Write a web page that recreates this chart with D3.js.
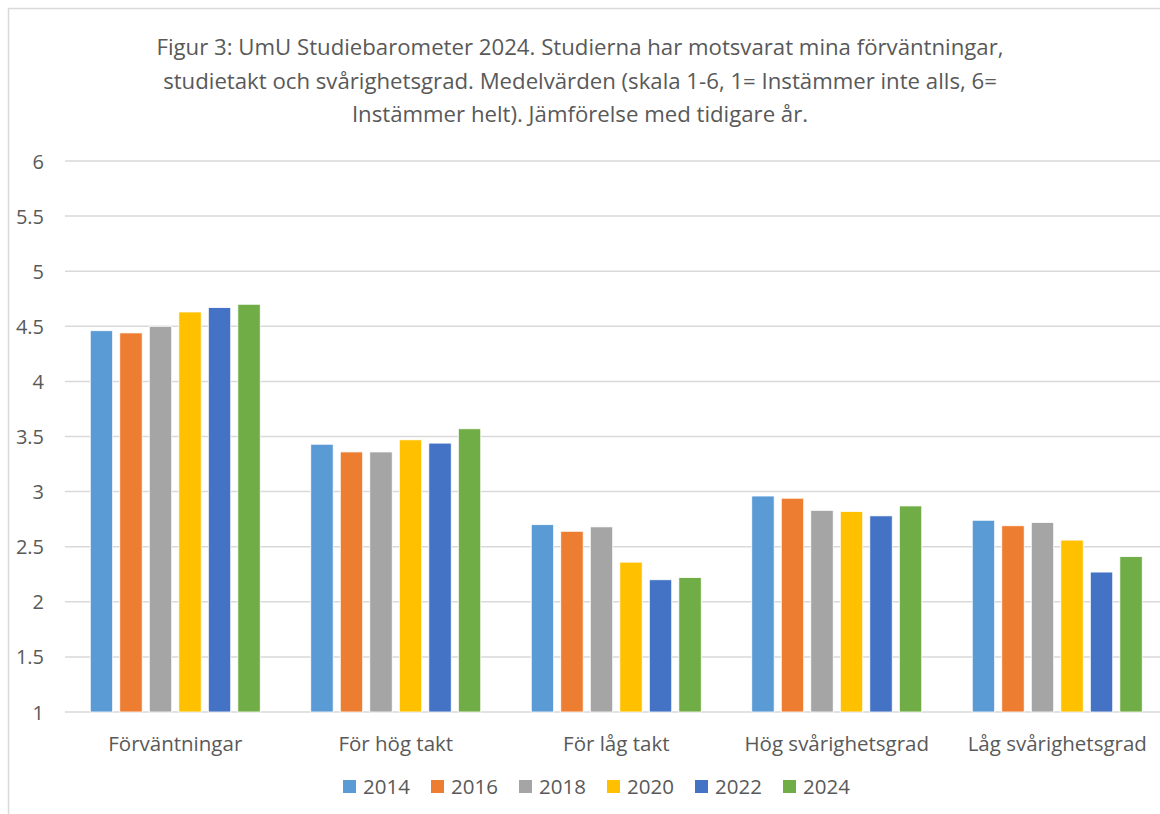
<!DOCTYPE html>
<html>
<head>
<meta charset="utf-8">
<script src="https://cdn.jsdelivr.net/npm/d3@7"></script>
<style>
  body { margin: 0; background: #fff; }
  svg text { font-family: "Open Sans", sans-serif; fill: #595959; }
</style>
</head>
<body>
<div id="chart"></div>
<script>
var categories = ["Förväntningar", "För hög takt", "För låg takt", "Hög svårighetsgrad", "Låg svårighetsgrad"];
var years = ["2014", "2016", "2018", "2020", "2022", "2024"];
var colors = ["#5b9bd5", "#ed7d31", "#a5a5a5", "#ffc000", "#4472c4", "#70ad47"];

var v2014 = [4.46, 3.43, 2.70, 2.96, 2.74];
var v2016 = [4.44, 3.36, 2.64, 2.94, 2.69];
var v2018 = [4.50, 3.36, 2.68, 2.83, 2.72];
var v2020 = [4.63, 3.47, 2.36, 2.82, 2.56];
var v2022 = [4.67, 3.44, 2.20, 2.78, 2.27];
var v2024 = [4.70, 3.57, 2.22, 2.87, 2.41];
var seriesValues = [v2014, v2016, v2018, v2020, v2022, v2024];

var yTicks = [1, 1.5, 2, 2.5, 3, 3.5, 4, 4.5, 5, 5.5, 6];
var titleLines = [
  "Figur 3: UmU Studiebarometer 2024. Studierna har motsvarat mina förväntningar,",
  "studietakt och svårighetsgrad. Medelvärden (skala 1-6, 1= Instämmer inte alls, 6=",
  "Instämmer helt). Jämförelse med tidigare år."
];

var width = 1160, height = 814;

var svg = d3.select("#chart")
  .append("svg")
  .attr("width", width)
  .attr("height", height);

// outer chart frame
svg.append("rect")
  .attr("x", 8.5)
  .attr("y", 8.5)
  .attr("width", width + 10)
  .attr("height", height + 10)
  .attr("fill", "none")
  .attr("stroke", "#d9d9d9")
  .attr("stroke-width", 1.5);

// title
svg.append("g").selectAll("text")
  .data(titleLines)
  .enter()
  .append("text")
  .attr("x", 580)
  .attr("y", function(d, i) { return 55 + i * 33.5; })
  .attr("text-anchor", "middle")
  .attr("font-size", 22.2)
  .text(function(d) { return d; });

var y = d3.scaleLinear().domain([1, 6]).range([712, 161]);

var x0 = d3.scaleBand()
  .domain(categories)
  .range([65, 1167.5]);

var groupW = 170;
var x1 = d3.scaleBand()
  .domain(years)
  .range([(x0.bandwidth() - groupW) / 2, (x0.bandwidth() + groupW) / 2])
  .paddingInner(0.24);

// gridlines
svg.append("g")
  .selectAll("line")
  .data(yTicks)
  .enter()
  .append("line")
  .attr("x1", 65)
  .attr("x2", width)
  .attr("y1", function(d) { return y(d); })
  .attr("y2", function(d) { return y(d); })
  .attr("stroke", "#d9d9d9")
  .attr("stroke-width", 1.5);

// y axis labels
var yAxis = d3.axisLeft(y)
  .tickValues(yTicks)
  .tickSize(0)
  .tickPadding(0)
  .tickFormat(function(d) { return String(d); });

var yg = svg.append("g")
  .attr("transform", "translate(44,0)")
  .call(yAxis);
yg.select(".domain").remove();
yg.selectAll("text")
  .attr("font-size", 20)
  .attr("font-family", null)
  .attr("fill", null)
  .attr("dy", "0.35em");

// bars
var groups = svg.append("g")
  .selectAll("g")
  .data(categories)
  .enter()
  .append("g")
  .attr("transform", function(d) { return "translate(" + x0(d) + ",0)"; });

groups.selectAll("rect")
  .data(function(d, ci) {
    return years.map(function(yr, si) {
      return { year: yr, value: seriesValues[si][ci], color: colors[si] };
    });
  })
  .enter()
  .append("rect")
  .attr("x", function(d) { return x1(d.year); })
  .attr("y", function(d) { return y(d.value); })
  .attr("width", x1.bandwidth())
  .attr("height", function(d) { return y(1) - y(d.value); })
  .attr("fill", function(d) { return d.color; })
  .attr("stroke", "#fff")
  .attr("stroke-width", 0.8);

// category labels
var xAxis = d3.axisBottom(x0).tickSize(0).tickPadding(0);
var xg = svg.append("g")
  .attr("transform", "translate(0,744)")
  .call(xAxis);
xg.select(".domain").remove();
xg.selectAll("text")
  .attr("font-size", 20.5)
  .attr("font-family", null)
  .attr("fill", null)
  .attr("dy", "0.35em");

// legend
var legend = svg.append("g")
  .selectAll("g")
  .data(years)
  .enter()
  .append("g")
  .attr("transform", function(d, i) { return "translate(" + (343 + i * 88) + ",780)"; });

legend.append("rect")
  .attr("width", 13)
  .attr("height", 13)
  .attr("fill", function(d, i) { return colors[i]; });

legend.append("text")
  .attr("x", 20)
  .attr("y", 7)
  .attr("dy", "0.35em")
  .attr("font-size", 20.5)
  .text(function(d) { return d; });
</script>
</body>
</html>
